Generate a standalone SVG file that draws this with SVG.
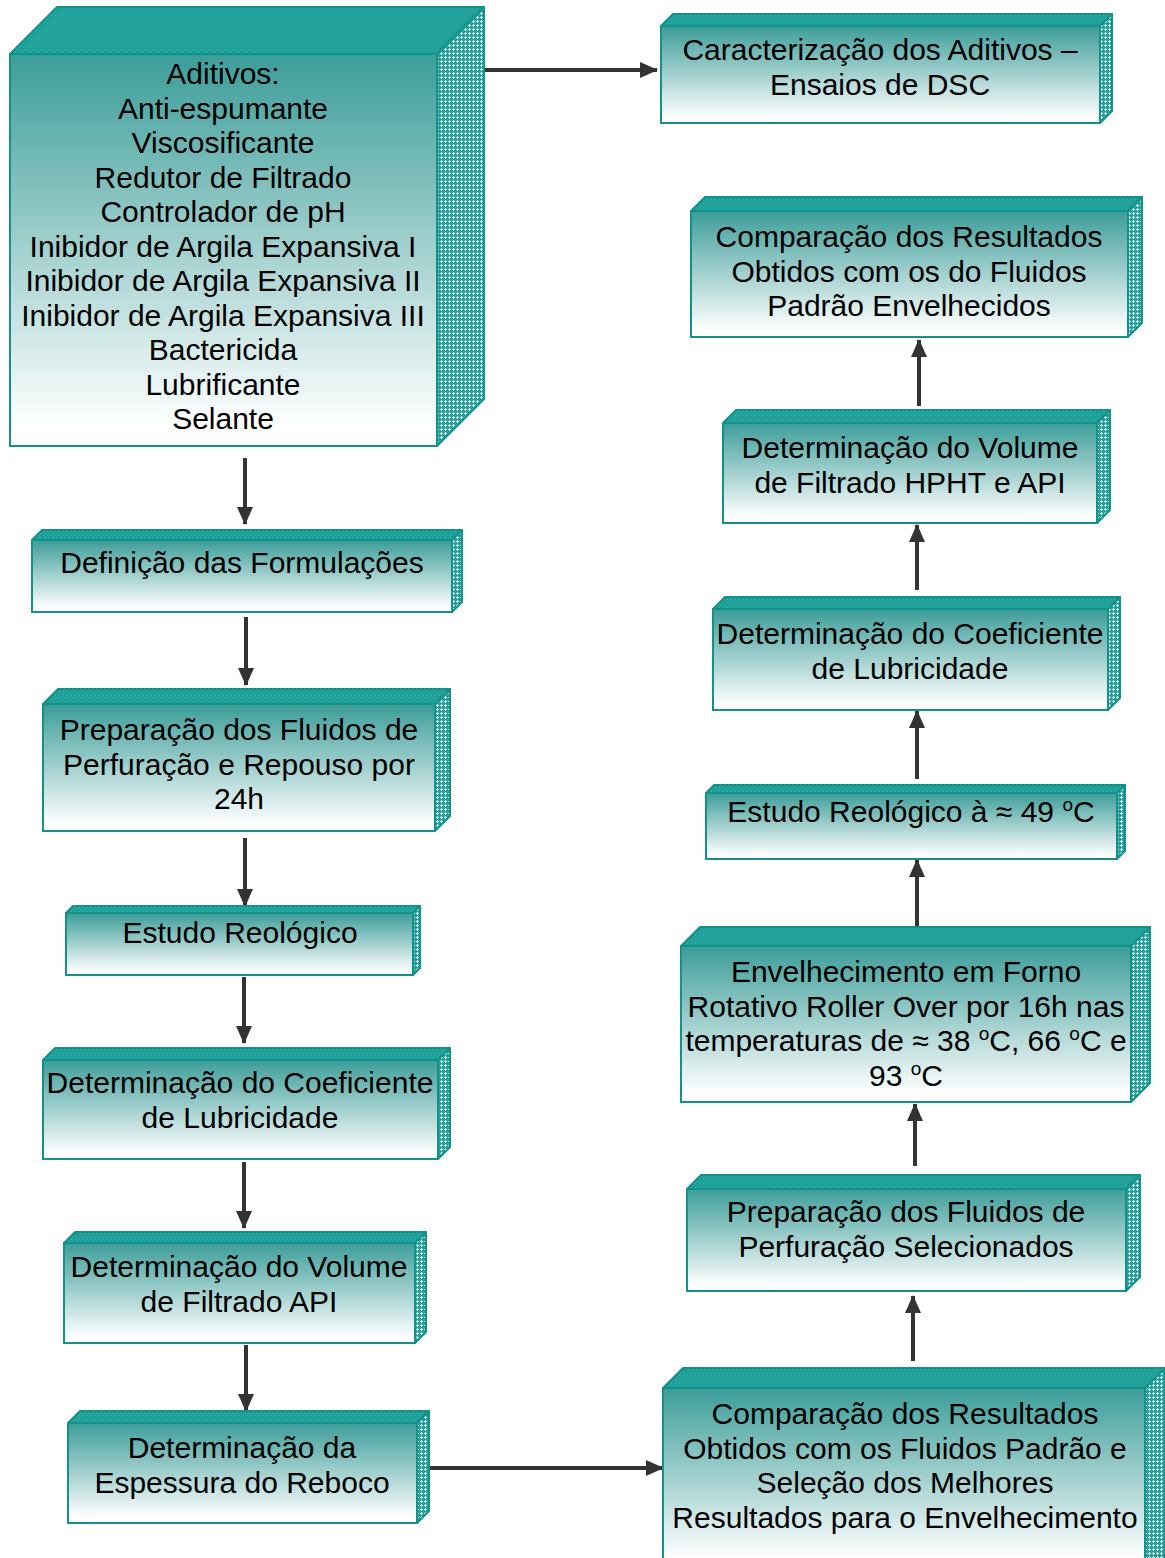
<svg xmlns="http://www.w3.org/2000/svg" width="1165" height="1558" viewBox="0 0 1165 1558">
<defs>
<linearGradient id="gf" x1="0" y1="0" x2="0" y2="1">
<stop offset="0" stop-color="#3c9d99"/>
<stop offset="0.95" stop-color="#ffffff"/>
</linearGradient>
<pattern id="pt" width="4" height="4" patternUnits="userSpaceOnUse">
<rect width="4" height="4" fill="#1d9f99"/>
<rect x="1" y="1" width="1" height="1" fill="#4ab5af"/>
<rect x="3" y="3" width="1" height="1" fill="#4ab5af"/>
</pattern>
<pattern id="ps" width="4" height="4" patternUnits="userSpaceOnUse">
<rect width="4" height="4" fill="#2a9e98"/>
<rect x="1" y="0" width="1" height="3" fill="#c8e8e5"/>
<rect x="0" y="1" width="3" height="1" fill="#c8e8e5"/>
</pattern>
<marker id="ah" markerUnits="userSpaceOnUse" markerWidth="18" markerHeight="18" viewBox="0 0 18 18" refX="17" refY="9" orient="auto">
<path d="M0,1 L18,9 L0,17 Z" fill="#333333"/>
</marker>
</defs>
<style>
.f{fill:url(#gf);stroke:#13918b;stroke-width:2}
.t{fill:url(#pt);stroke:#13918b;stroke-width:2;stroke-linejoin:round}
.s{fill:url(#ps);stroke:#13918b;stroke-width:2;stroke-linejoin:round}
text{font-family:"Liberation Sans",Arial,sans-serif;font-size:30px;fill:#000;text-anchor:middle}
.c line{stroke:#333333;stroke-width:4;marker-end:url(#ah)}
</style>

<g class="c" id="connectors">
<line x1="484" y1="70" x2="657" y2="70"/>
<line x1="245" y1="458" x2="245" y2="524"/>
<line x1="246" y1="617" x2="246" y2="685"/>
<line x1="245" y1="838" x2="245" y2="906"/>
<line x1="244" y1="977" x2="244" y2="1043"/>
<line x1="244" y1="1162" x2="244" y2="1228"/>
<line x1="246" y1="1345" x2="246" y2="1411"/>
<line x1="430" y1="1468" x2="663" y2="1468"/>
<line x1="913" y1="1361" x2="913" y2="1296"/>
<line x1="915" y1="1166" x2="915" y2="1104"/>
<line x1="917" y1="926" x2="917" y2="860"/>
<line x1="917" y1="779" x2="917" y2="711"/>
<line x1="917" y1="590" x2="917" y2="525"/>
<line x1="919" y1="406" x2="919" y2="340"/>
</g>

<g id="aditivos">
<polygon class="t" points="10,54 57,7 484,7 437,54"/>
<polygon class="s" points="437,54 484,7 484,399 437,446"/>
<rect class="f" x="10" y="54" width="427" height="392"/>
<text x="223" y="84">Aditivos:</text>
<text x="223" y="118.5">Anti-espumante</text>
<text x="223" y="153">Viscosificante</text>
<text x="223" y="187.5">Redutor de Filtrado</text>
<text x="223" y="222">Controlador de pH</text>
<text x="223" y="256.5">Inibidor de Argila Expansiva I</text>
<text x="223" y="291">Inibidor de Argila Expansiva II</text>
<text x="223" y="325.5">Inibidor de Argila Expansiva III</text>
<text x="223" y="360">Bactericida</text>
<text x="223" y="394.5">Lubrificante</text>
<text x="223" y="429">Selante</text>
</g>

<g id="caracterizacao">
<polygon class="t" points="661,26 673,14 1112,14 1100,26"/>
<polygon class="s" points="1100,26 1112,14 1112,111 1100,123"/>
<rect class="f" x="661" y="26" width="439" height="97"/>
<text x="880" y="60">Caracterização dos Aditivos –</text>
<text x="880" y="94.5">Ensaios de DSC</text>
</g>

<g id="comparacao-envelhecidos">
<polygon class="t" points="691,211 705,197 1142,197 1128,211"/>
<polygon class="s" points="1128,211 1142,197 1142,323 1128,337"/>
<rect class="f" x="691" y="211" width="437" height="126"/>
<text x="909" y="247">Comparação dos Resultados</text>
<text x="909" y="281.5">Obtidos com os do Fluidos</text>
<text x="909" y="316">Padrão Envelhecidos</text>
</g>

<g id="volume-hpht">
<polygon class="t" points="723,423 736,410 1110,410 1097,423"/>
<polygon class="s" points="1097,423 1110,410 1110,510 1097,523"/>
<rect class="f" x="723" y="423" width="374" height="100"/>
<text x="910" y="458">Determinação do Volume</text>
<text x="910" y="492.5">de Filtrado HPHT e API</text>
</g>

<g id="coeficiente-direita">
<polygon class="t" points="713,609 725,597 1120,597 1108,609"/>
<polygon class="s" points="1108,609 1120,597 1120,698 1108,710"/>
<rect class="f" x="713" y="609" width="395" height="101"/>
<text x="910" y="644">Determinação do Coeficiente</text>
<text x="910" y="678.5">de Lubricidade</text>
</g>

<g id="estudo-49">
<polygon class="t" points="706,793 714,785 1125,785 1117,793"/>
<polygon class="s" points="1117,793 1125,785 1125,851 1117,859"/>
<rect class="f" x="706" y="793" width="411" height="66"/>
<text x="911" y="822">Estudo Reológico à ≈ 49 <tspan dy="-11" font-size="19">o</tspan><tspan dy="11">C</tspan></text>
</g>

<g id="envelhecimento">
<polygon class="t" points="681,946 700,927 1150,927 1131,946"/>
<polygon class="s" points="1131,946 1150,927 1150,1083 1131,1102"/>
<rect class="f" x="681" y="946" width="450" height="156"/>
<text x="906" y="982">Envelhecimento em Forno</text>
<text x="906" y="1016.5">Rotativo Roller Over por 16h nas</text>
<text x="906" y="1051">temperaturas de ≈ 38 <tspan dy="-11" font-size="19">o</tspan><tspan dy="11">C, 66 </tspan><tspan dy="-11" font-size="19">o</tspan><tspan dy="11">C e</tspan></text>
<text x="906" y="1085.5">93 <tspan dy="-11" font-size="19">o</tspan><tspan dy="11">C</tspan></text>
</g>

<g id="preparacao-selecionados">
<polygon class="t" points="687,1189 701,1175 1140,1175 1126,1189"/>
<polygon class="s" points="1126,1189 1140,1175 1140,1277 1126,1291"/>
<rect class="f" x="687" y="1189" width="439" height="102"/>
<text x="906" y="1222">Preparação dos Fluidos de</text>
<text x="906" y="1256.5">Perfuração Selecionados</text>
</g>

<g id="comparacao-selecao">
<polygon class="t" points="663,1388 683,1368 1165,1368 1145,1388"/>
<polygon class="s" points="1145,1388 1165,1368 1165,1560 1145,1560"/>
<rect class="f" x="663" y="1388" width="482" height="180"/>
<text x="905" y="1424">Comparação dos Resultados</text>
<text x="905" y="1458.5">Obtidos com os Fluidos Padrão e</text>
<text x="905" y="1493">Seleção dos Melhores</text>
<text x="905" y="1527.5">Resultados para o Envelhecimento</text>
</g>

<g id="definicao">
<polygon class="t" points="32,540 42,530 462,530 452,540"/>
<polygon class="s" points="452,540 462,530 462,602 452,612"/>
<rect class="f" x="32" y="540" width="420" height="72"/>
<text x="242" y="573">Definição das Formulações</text>
</g>

<g id="preparacao-24h">
<polygon class="t" points="43,704 58,689 450,689 435,704"/>
<polygon class="s" points="435,704 450,689 450,816 435,831"/>
<rect class="f" x="43" y="704" width="392" height="127"/>
<text x="239" y="740">Preparação dos Fluidos de</text>
<text x="239" y="774.5">Perfuração e Repouso por</text>
<text x="239" y="809">24h</text>
</g>

<g id="estudo-reologico">
<polygon class="t" points="66,913 73,906 420,906 413,913"/>
<polygon class="s" points="413,913 420,906 420,968 413,975"/>
<rect class="f" x="66" y="913" width="347" height="62"/>
<text x="240" y="943">Estudo Reológico</text>
</g>

<g id="coeficiente-esquerda">
<polygon class="t" points="43,1060 55,1048 450,1048 438,1060"/>
<polygon class="s" points="438,1060 450,1048 450,1147 438,1159"/>
<rect class="f" x="43" y="1060" width="395" height="99"/>
<text x="240" y="1093">Determinação do Coeficiente</text>
<text x="240" y="1127.5">de Lubricidade</text>
</g>

<g id="volume-api">
<polygon class="t" points="64,1243 75,1232 426,1232 415,1243"/>
<polygon class="s" points="415,1243 426,1232 426,1332 415,1343"/>
<rect class="f" x="64" y="1243" width="351" height="100"/>
<text x="239" y="1277">Determinação do Volume</text>
<text x="239" y="1311.5">de Filtrado API</text>
</g>

<g id="espessura">
<polygon class="t" points="68,1423 80,1411 429,1411 417,1423"/>
<polygon class="s" points="417,1423 429,1411 429,1511 417,1523"/>
<rect class="f" x="68" y="1423" width="349" height="100"/>
<text x="242" y="1458">Determinação da</text>
<text x="242" y="1492.5">Espessura do Reboco</text>
</g>
</svg>
